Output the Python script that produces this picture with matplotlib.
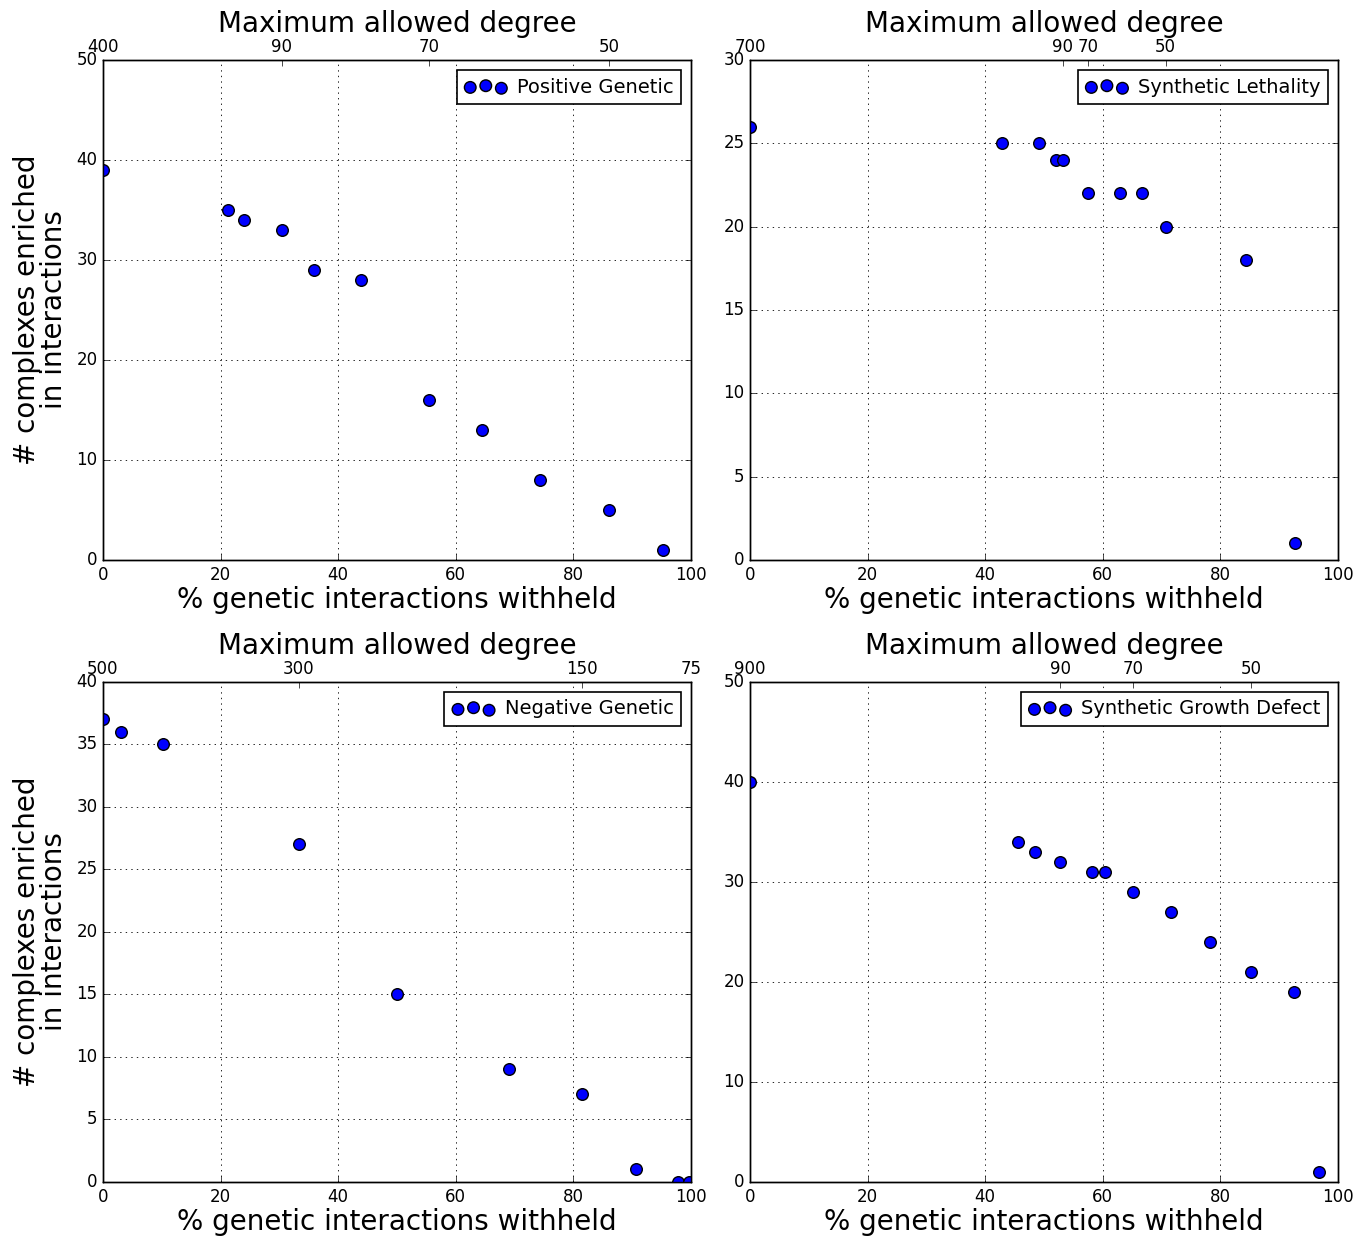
import matplotlib
matplotlib.use('Agg')
from matplotlib import pyplot as plt

plt.style.use('classic')

# Positive Genetic
pos_x = [0, 21.3, 24.0, 30.4, 35.9, 43.9, 55.4, 64.5, 74.3, 86.1, 95.2]
pos_y = [39, 35, 34, 33, 29, 28, 16, 13, 8, 5, 1]
pos_top = [0, 30.4, 55.4, 86.1]
pos_top_labels = ['400', '90', '70', '50']

# Synthetic Lethality
sl_x = [0, 42.9, 49.2, 52.0, 53.2, 57.5, 62.9, 66.7, 70.7, 84.4, 92.7]
sl_y = [26, 25, 25, 24, 24, 22, 22, 22, 20, 18, 1]
sl_top = [0, 53.2, 57.5, 70.7]
sl_top_labels = ['700', '90', '70', '50']

# Negative Genetic
neg_x = [0, 3.1, 10.2, 33.3, 50.0, 69.0, 81.5, 90.6, 97.8, 99.6]
neg_y = [37, 36, 35, 27, 15, 9, 7, 1, 0, 0]
neg_top = [0, 33.3, 81.5, 100]
neg_top_labels = ['500', '300', '150', '75']

# Synthetic Growth Defect
sgd_x = [0, 45.6, 48.5, 52.8, 58.1, 60.4, 65.2, 71.6, 78.2, 85.2, 92.5, 96.8]
sgd_y = [40, 34, 33, 32, 31, 31, 29, 27, 24, 21, 19, 1]
sgd_top = [0, 52.8, 65.2, 85.2]
sgd_top_labels = ['900', '90', '70', '50']

panels = [
    (pos_x, pos_y, pos_top, pos_top_labels, 'Positive Genetic', 50, 10),
    (sl_x, sl_y, sl_top, sl_top_labels, 'Synthetic Lethality', 30, 5),
    (neg_x, neg_y, neg_top, neg_top_labels, 'Negative Genetic', 40, 5),
    (sgd_x, sgd_y, sgd_top, sgd_top_labels, 'Synthetic Growth Defect', 50, 10),
]

fig = plt.figure(figsize=(13.67, 12.4), dpi=100, facecolor='white')

lefts = [0.0753, 0.5486]
bottoms = [0.5484, 0.0468]
w = 0.4302
h = 0.4032

for k, (x, y, top, top_labels, name, ymax, ystep) in enumerate(panels):
    row, col = divmod(k, 2)
    ax = fig.add_axes([lefts[col], bottoms[row], w, h])
    ax.scatter(x, y, s=70, c='b', edgecolors='k', linewidths=1.0,
               label=name, zorder=3)
    ax.set_xlim(0, 100)
    ax.set_ylim(0, ymax)
    ax.set_xticks(range(0, 101, 20))
    ax.set_yticks(range(0, ymax + 1, ystep))
    ax.tick_params(labelsize=12, top=False)
    ax.grid(True, linestyle=':', color='k', linewidth=0.6)
    ax.set_xlabel('% genetic interactions withheld', fontsize=20, labelpad=2)
    if col == 0:
        ax.set_ylabel('# complexes enriched\nin interactions', fontsize=20,
                      labelpad=6, linespacing=0.95)
    leg = ax.legend(loc='upper right', scatterpoints=3, fontsize=14,
                    fancybox=False, borderpad=0.4, handletextpad=0.5,
                    handlelength=2.2)
    leg.get_frame().set_linewidth(1.2)

    ax2 = ax.twiny()
    ax2.set_xlim(ax.get_xlim())
    ax2.set_xticks(top)
    ax2.set_xticklabels(top_labels)
    ax2.tick_params(labelsize=12, pad=3)
    ax2.set_xlabel('Maximum allowed degree', fontsize=20, labelpad=4)

fig.savefig('out.png', dpi=100, facecolor='white')
